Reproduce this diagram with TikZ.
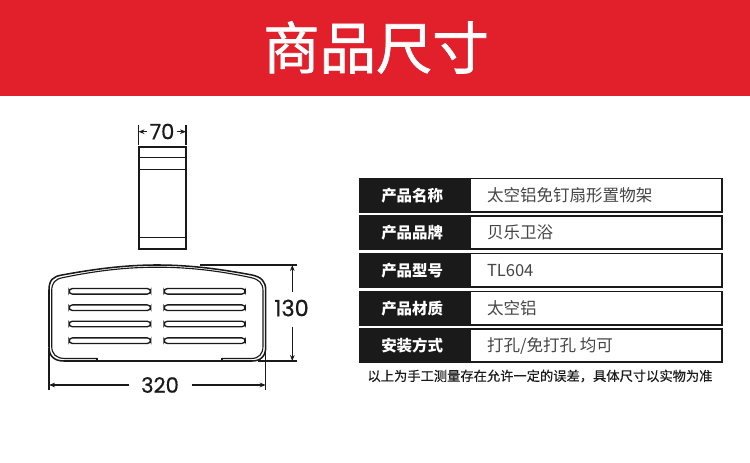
\documentclass[tikz,border=0pt]{standalone}
\usepackage{fontspec}
\setmainfont{Noto Sans CJK SC}
\newfontfamily\numfont[FakeBold=0.6]{Poppins}
\newfontfamily\titlefont[FakeBold=1.2]{Noto Sans CJK SC}
\newfontfamily\notefont[FakeBold=0.35]{Noto Sans CJK SC}
\definecolor{brandred}{HTML}{E2202C}
\definecolor{inkblack}{HTML}{1A1A1A}
\definecolor{valgray}{HTML}{454545}
\usetikzlibrary{arrows.meta}
\tikzset{
  rowbox/.style={draw=inkblack,line width=1.3pt,fill=white,minimum width=271.5pt,minimum height=25.2pt,anchor=north west,inner sep=0pt},
  headcell/.style={fill=inkblack,draw=inkblack,line width=1.3pt,minimum width=82.5pt,minimum height=25.2pt,anchor=north west,inner sep=0pt},
  headtext/.style={text=white,inner sep=0pt,font=\bfseries\fontsize{11.6}{12}\selectfont},
  valtext/.style={text=valgray,anchor=west,inner sep=0pt,font=\fontsize{12.4}{14}\selectfont},
  dimtext/.style={text=inkblack,inner sep=0pt,font=\numfont\fontsize{15.8}{17}\selectfont},
  part/.style={draw=inkblack,line width=1.5pt},
  thin part/.style={draw=inkblack,line width=1.1pt},
  tray outer/.style={draw=inkblack,line width=1.15pt},
  tray inner/.style={draw=inkblack,line width=0.85pt},
  dimline/.style={draw=inkblack,line width=0.9pt},
  dimarrow/.style={draw=inkblack,line width=0.9pt,-{Stealth[length=4.5pt,width=3.5pt]}},
  slot/.style={draw=inkblack,line width=1pt,rounded corners=2.6pt}
}
\begin{document}
\begin{tikzpicture}[x=0.75pt,y=-0.75pt]
\useasboundingbox (0,0) rectangle (750,463);
\fill[white] (0,0) rectangle (750,463);
\fill[brandred] (0,0) rectangle (750,96);
\node[text=white,inner sep=0pt,font=\titlefont\fontsize{42.3}{46}\selectfont] (title) at (376,47.5) {商品尺寸};

% side view
\draw[part] (138.5,146.7) rectangle (186,249.3);
\draw[thin part] (138.5,157.7) -- (186,157.7);
\draw[thin part] (138.5,169.3) -- (186,169.3);
\draw[thin part] (138.5,237.3) -- (186,237.3);
\coordinate (wl) at (138.5,125); \coordinate (wlb) at (138.5,145);
\coordinate (wr) at (186,125);   \coordinate (wrb) at (186,145);
\draw[dimline] (wl) -- (wlb);
\draw[dimline] (wr) -- (wrb);
\node[dimtext] (w70) at (162,131.5) {70};
\coordinate (wla) at (138.5,131.7); \coordinate (wra) at (186,131.7);
\draw[dimarrow] (w70.west |- wla) ++(-2,0) -- (wla);
\draw[dimarrow] (w70.east |- wra) ++(2,0) -- (wra);

% tray
\draw[tray outer] (97,361) -- (64,361) .. controls (54,361) and (49,356) .. (49,347) -- (49,290)
  .. controls (49,280) and (53,276.5) .. (62,275) .. controls (95,269) and (125,265) .. (157,265)
  .. controls (190,265) and (220,269) .. (252,275) .. controls (261,277) and (265.7,281) .. (265.7,290)
  -- (265.7,347) .. controls (265.7,356) and (261,361) .. (252,361) -- (222,361);
\draw[tray inner] (97,358.5) -- (65,358.5) .. controls (56,358.5) and (51.7,354) .. (51.7,346) -- (51.7,291)
  .. controls (51.7,283) and (55,279) .. (63,277.6) .. controls (95,271) and (125,267.2) .. (157,267.2)
  .. controls (190,267.2) and (220,271) .. (251,277.6) .. controls (259,279.5) and (263,283) .. (263,291)
  -- (263,346) .. controls (263,354) and (259,358.5) .. (251,358.5) -- (222,358.5);
\draw[tray outer] (97,358.5) -- (97,361) -- (222,361) -- (222,358.5);
\foreach \yy in {291.3,307.7,324,340.7}{
  \draw[slot] (69,\yy-2.8) rectangle (150.7,\yy+2.8);
  \draw[slot] (164,\yy-2.8) rectangle (245.3,\yy+2.8);
}
% 320
\coordinate (ll) at (49,348); \coordinate (llb) at (49,390);
\coordinate (rl) at (265.7,348); \coordinate (rlb) at (265.7,390);
\draw[dimline] (ll) -- (llb);
\draw[dimline] (rl) -- (rlb);
\node[dimtext] (w320) at (160,385) {320};
\coordinate (la) at (49,385); \coordinate (ra) at (265.7,385);
\coordinate (ls) at (129,385); \coordinate (rs) at (191.7,385);
\draw[dimarrow] (ls) -- (la);
\draw[dimarrow] (rs) -- (ra);
% 130
\coordinate (tl) at (200,265); \coordinate (tr) at (297,265);
\coordinate (bl) at (258,361); \coordinate (br) at (297,361);
\draw[dimline] (tl) -- (tr);
\draw[dimline] (bl) -- (br);
\node[dimtext,font=\numfont\fontsize{16.8}{18}\selectfont] (h130) at (291.5,308) {130};
\coordinate (ta) at (292.3,265); \coordinate (ts) at (292.3,292);
\coordinate (ba) at (292.3,361); \coordinate (bs) at (292.3,326.7);
\draw[dimarrow] (ts) -- (ta);
\draw[dimarrow] (bs) -- (ba);

% table
\foreach \top/\hd/\vl/\nm in {
 177.6/产品名称/太空铝免钉扇形置物架/a,
 214.9/产品品牌/贝乐卫浴/b,
 252.6/产品型号/TL604/c,
 290.7/产品材质/太空铝/d,
 327.9/安装方式/{打孔/免打孔 均可}/e}{
  \node[rowbox] (row\nm) at (359,\top) {};
  \node[headcell] (head\nm) at (359,\top) {};
  \node[headtext] (htxt\nm) at ([xshift=-2pt]head\nm.center) {\hd};
  \node[valtext] (val\nm) at ([xshift=12pt]head\nm.east) {\vl};
}
\node[text=inkblack,inner sep=0pt,font=\notefont\fontsize{9.95}{12}\selectfont] (note) at (540,376) {以上为手工测量存在允许一定的误差，具体尺寸以实物为准};
\end{tikzpicture}
\end{document}
